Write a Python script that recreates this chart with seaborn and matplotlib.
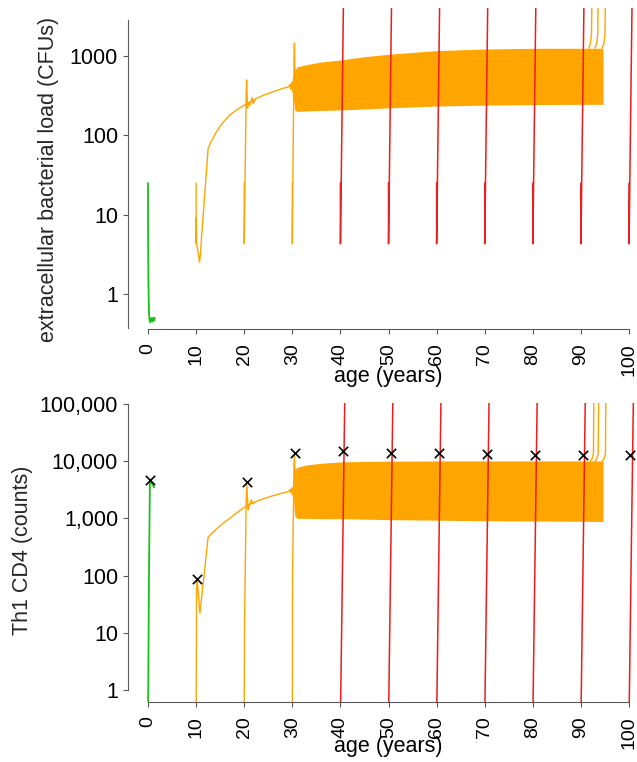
import numpy as np
import seaborn as sns
import matplotlib.pyplot as plt
from matplotlib.ticker import NullLocator

sns.set_style("ticks")
plt.rcParams['font.family'] = ['Liberation Sans', 'DejaVu Sans']

ORANGE = '#FFA500'
RED = '#EE1C1C'
GREEN = '#19C119'
AXC = '#5a5a5a'

# ---- top panel: extracellular bacterial load (CFUs) ----
green_age = [0, 0.02, 0.08, 0.2, 0.3, 0.45, 0.7, 0.9, 1.1, 1.3, 1.4]
green_cfu = [25, 6, 1.5, 0.6, 0.48, 0.44, 0.5, 0.45, 0.5, 0.46, 0.5]

run10_age = [10, 10.0, 10.05, 10.1, 10.75, 12.5, 13, 14, 15, 16, 17, 18, 19, 20,
             22, 24, 26, 28, 29.3, 29.5, 29.7, 29.9, 30.1, 30.25]
run10_cfu = [25, 4.3, 9, 4.3, 2.5, 68, 80, 105, 130, 155, 180, 200, 220, 240,
             280, 320, 355, 390, 410, 440, 380, 470, 350, 520]
run20_age = [20, 20.0, 20.4, 20.5, 20.7, 20.9, 21.3, 21.6, 21.9, 22.3]
run20_cfu = [25, 4.3, 300, 500, 220, 260, 240, 300, 250, 285]
run30_age = [30, 30.0, 30.35, 30.45, 30.6]
run30_cfu = [25, 4.3, 900, 1450, 400]

band_age = [30.2, 30.5, 31, 33, 36, 40, 45, 50, 55, 60, 70, 80, 90, 94.6]
band_cfu_hi = [500, 650, 730, 780, 840, 890, 980, 1050, 1110, 1170, 1225, 1250, 1250, 1250]
band_cfu_lo = [300, 210, 200, 203, 206, 209, 215, 222, 228, 234, 240, 244, 246, 246]

tail_start = [91.6, 92.9, 94.4]
tail_dage = [0, 0.4, 0.6, 0.7]
tail_cfu = [1250, 1450, 1900, 6000]

red_start = [40, 50, 60, 70, 80, 90, 100]
red_dage_top = [0, 0.005, 0.62]
red_cfu = [25, 4.3, 4100]

# ---- bottom panel: Th1 CD4 (counts) ----
green_th_age = [0, 0.05, 0.2, 0.4, 0.8, 1.3]
green_th = [0.3, 1, 100, 4600, 4100, 3500]

th10_age = [10, 10.1, 10.2, 10.8, 12.5, 13, 14, 15, 16, 17, 18, 19, 20, 21, 22, 24, 26, 28,
            29.3, 29.5, 29.7, 29.9, 30.1, 30.25]
th10 = [0.3, 60, 88, 22, 470, 520, 620, 740, 870, 1000, 1170, 1350, 1550, 1750, 1900,
        2200, 2500, 2780, 2950, 3200, 2800, 3400, 2600, 3800]
th20_age = [20, 20.05, 20.4, 20.55, 20.8, 21.1, 21.5, 21.8, 22.2]
th20 = [0.3, 10, 2000, 3800, 1400, 1700, 2100, 1800, 1950]
th30_age = [30, 30.05, 30.35, 30.45, 30.65]
th30 = [0.3, 100, 9000, 12700, 4000]

band_th_hi = [4500, 7000, 7800, 8600, 9200, 9700, 9900, 10000, 10000, 10100, 10100, 10100, 10100, 10100]
band_th_lo = [2500, 1100, 1000, 1000, 990, 990, 970, 950, 940, 930, 910, 900, 890, 880]

tail_th_start = [91.9, 92.9, 94.4]
tail_th_dage = [0, 0.4, 0.7, 0.8]
tail_th = [10000, 11000, 13500, 2e5]

red_dage_bot = [0, 0.9]
red_th = [0.3, 1.1e5]

mark_age = [0.4, 10.2, 20.5, 30.5, 40.5, 50.5, 60.5, 70.5, 80.5, 90.5, 100.3]
mark_th = [4600, 88, 4300, 14000, 15000, 14000, 14000, 13300, 13000, 12800, 12800]

xticks = list(range(0, 101, 10))


def line(ax, x, y, color, lw=1.0):
    sns.lineplot(x=np.asarray(x, float), y=np.asarray(y, float), ax=ax, color=color,
                 lw=lw, sort=False, estimator=None)


fig = plt.figure(figsize=(6.37, 7.62), dpi=100)
ax1 = fig.add_axes([128 / 637, 1 - 329 / 762, 509 / 637, 321 / 762])
ax2 = fig.add_axes([128 / 637, 1 - 702 / 762, 509 / 637, 299 / 762])

for ax in (ax1, ax2):
    ax.set_yscale('log')

# top panel
line(ax1, green_age, green_cfu, GREEN, 1.3)
ax1.fill_between(band_age, band_cfu_lo, band_cfu_hi, color=ORANGE, lw=0)
line(ax1, run10_age, run10_cfu, ORANGE)
line(ax1, run20_age, run20_cfu, ORANGE)
line(ax1, run30_age, run30_cfu, ORANGE)
for a in tail_start:
    line(ax1, [a + d for d in tail_dage], tail_cfu, ORANGE)
for a in red_start:
    line(ax1, [a + d for d in red_dage_top], red_cfu, RED, 1.1)

# bottom panel
line(ax2, green_th_age, green_th, GREEN, 1.3)
ax2.fill_between(band_age, band_th_lo, band_th_hi, color=ORANGE, lw=0)
line(ax2, th10_age, th10, ORANGE)
line(ax2, th20_age, th20, ORANGE)
line(ax2, th30_age, th30, ORANGE)
for a in tail_th_start:
    line(ax2, [a + d for d in tail_th_dage], tail_th, ORANGE)
for a in red_start:
    line(ax2, [a + d for d in red_dage_bot], red_th, RED, 1.1)
sns.scatterplot(x=mark_age, y=mark_th, ax=ax2, marker='x', color='black', s=45,
                linewidth=1.2, zorder=10)

FS = 15.5
FSX = 14
ax1.set_ylim(0.362, 4027)
ax1.set_yticks([1, 10, 100, 1000], ['1', '10', '100', '1000'])
ax1.spines['left'].set_bounds(0.372, 2845)
ax2.set_ylim(0.617, 1.04e5)
ax2.set_yticks([1, 10, 100, 1000, 10000, 100000],
               ['1', '10', '100', '1,000', '10,000', '100,000'])
ax2.spines['left'].set_bounds(1, 1e5)

for ax in (ax1, ax2):
    ax.yaxis.set_minor_locator(NullLocator())
    ax.set_xlim(-4.158, 101.66)
    ax.set_xticks(xticks, [str(t) for t in xticks], rotation=90)
    ax.spines['top'].set_visible(False)
    ax.spines['right'].set_visible(False)
    ax.spines['bottom'].set_bounds(0, 100)
    for s in ('left', 'bottom'):
        ax.spines[s].set_color(AXC)
        ax.spines[s].set_linewidth(0.8)
    ax.tick_params(axis='both', length=3.6, width=0.8, color=AXC, labelcolor='black')
    ax.tick_params(axis='x', pad=6.5, labelsize=FSX)
    ax.tick_params(axis='y', pad=3.6, labelsize=FS)
    ax.set_xlabel('age (years)', fontsize=FS, va='top', color='black')
    ax.set_ylabel('')

ax1.xaxis.set_label_coords(0.5118, -0.115)
ax2.xaxis.set_label_coords(0.5118, -0.115)

fig.text(49 / 637, 1 - 179 / 762, 'extracellular bacterial load (CFUs)', rotation=90,
         ha='center', va='center', fontsize=FS)
fig.text(23 / 637, 1 - 550 / 762, 'Th1 CD4 (counts)', rotation=90,
         ha='center', va='center', fontsize=FS)

fig.savefig('out.png', dpi=100)
